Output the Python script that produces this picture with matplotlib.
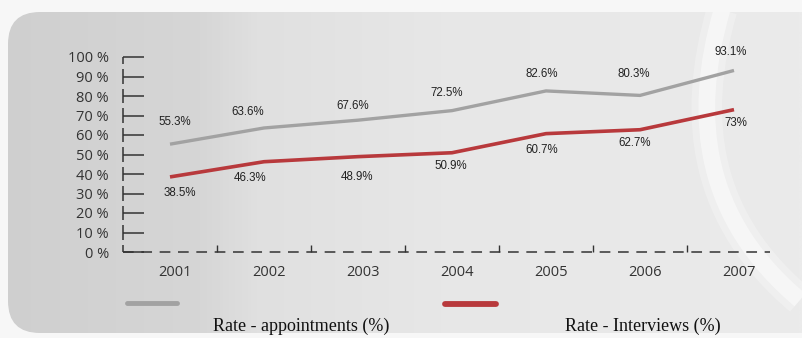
import matplotlib
matplotlib.use('Agg')
import matplotlib.pyplot as plt
import numpy as np
from matplotlib.patches import FancyBboxPatch, PathPatch
from matplotlib.path import Path
from matplotlib.colors import LinearSegmentedColormap

# ── Data ───────────────────────────────────────────────────────────
years        = ['2001', '2002', '2003', '2004', '2005', '2006', '2007']
appointments = [55.3, 63.6, 67.6, 72.5, 82.6, 80.3, 93.1]
interviews   = [38.5, 46.3, 48.9, 50.9, 60.7, 62.7, 73.0]
appt_labels  = ['55.3%', '63.6%', '67.6%', '72.5%', '82.6%', '80.3%', '93.1%']
intv_labels  = ['38.5%', '46.3%', '48.9%', '50.9%', '60.7%', '62.7%', '73%']
y_ticks      = [0, 10, 20, 30, 40, 50, 60, 70, 80, 90, 100]
y_ticklabels = ['0 %', '10 %', '20 %', '30 %', '40 %', '50 %',
                '60 %', '70 %', '80 %', '90 %', '100 %']

# label offsets in pixels (dx, dy), dy positive = up
appt_off = [(5, 22), (-16, 16), (-5, 14), (-5, 18), (-4, 17), (-6, 21), (-3, 18)]
intv_off = [(10, -16), (-14, -16), (-1, -20), (-1, -13), (-4, -16), (-5, -13), (2, -13)]

# ── Style ──────────────────────────────────────────────────────────
W, H, DPI = 802, 338, 100
COL_GRAY = '#a2a2a2'
COL_RED  = '#b8393c'
COL_AXIS = '#333333'
SANS     = 'Open Sans'

fig = plt.figure(figsize=(W / DPI, H / DPI), dpi=DPI, facecolor='#f7f7f7')

# ── Background panel ───────────────────────────────────────────────
bg = fig.add_axes([0, 0, 1, 1])
bg.set_xlim(0, W)
bg.set_ylim(H, 0)
bg.axis('off')

cmap = LinearSegmentedColormap.from_list(
    'panel', [(0.0, '#cfcfcf'), (0.25, '#d6d6d6'), (0.32, '#e0e0e0'),
              (0.55, '#e7e7e7'), (1.0, '#ebebeb')])
grad = np.linspace(0, 1, 400).reshape(1, -1)
im = bg.imshow(grad, cmap=cmap, aspect='auto', extent=[0, W, H, 0], zorder=0)
panel = FancyBboxPatch((8, 12), W + 40, 321,
                       boxstyle='round,pad=0,rounding_size=32',
                       facecolor='none', edgecolor='none')
bg.add_patch(panel)
im.set_clip_path(panel)

# soft white swoosh on the right
sw_path = Path([(722, 10), (690, 120), (705, 220), (800, 300)],
               [Path.MOVETO, Path.CURVE4, Path.CURVE4, Path.CURVE4])
for lw, a in [(22, 0.25), (12, 0.45)]:
    sw = PathPatch(sw_path, facecolor='none', edgecolor='white', lw=lw,
                   alpha=a, zorder=1, capstyle='butt')
    bg.add_patch(sw)
    sw.set_clip_path(panel)

# ── Main axes ──────────────────────────────────────────────────────
ax = fig.add_axes([123 / W, (H - 252) / H, 658 / W, 195 / H])
ax.patch.set_alpha(0)
x = np.arange(len(years))
ax.set_xlim(-0.5, 6.5)
ax.set_ylim(0, 100)
for s in ax.spines.values():
    s.set_visible(False)

ax.plot(x, appointments, color=COL_GRAY, lw=2.4, solid_capstyle='butt',
        zorder=3, clip_on=False)
ax.plot(x, interviews, color=COL_RED, lw=2.6, solid_capstyle='butt',
        zorder=3, clip_on=False)

for xi, v, t, (dx, dy) in zip(x, appointments, appt_labels, appt_off):
    ax.annotate(t, (xi, v), xytext=(dx, dy), textcoords='offset pixels',
                ha='center', va='center', fontsize=8.3,
                family='Liberation Sans', color='#222222')
for xi, v, t, (dx, dy) in zip(x, interviews, intv_labels, intv_off):
    ax.annotate(t, (xi, v), xytext=(dx, dy), textcoords='offset pixels',
                ha='center', va='center', fontsize=8.3,
                family='Liberation Sans', color='#222222')

# segmented y axis: short vertical piece centred on each tick
ax.set_yticks(y_ticks)
ax.set_yticklabels(y_ticklabels, fontsize=10.5, family=SANS, color='#333333')
ax.tick_params(axis='y', direction='in', length=15, width=1.1,
               color=COL_AXIS, pad=10)
for t in y_ticks:
    lo, hi = max(t - 3.6, 0), min(t + 3.6, 100)
    ax.plot([-0.5, -0.5], [lo, hi], color=COL_AXIS, lw=1.1,
            clip_on=False, zorder=4, solid_capstyle='butt')

# dashed x axis with short boundary ticks
ax.plot([-0.5, 6.38], [0, 0], color=COL_AXIS, lw=1.1, ls=(0, (7, 5)),
        clip_on=False, zorder=4)
ax.set_xticks((x + 0.5)[:-1])
ax.set_xticklabels([])
ax.tick_params(axis='x', direction='in', length=5, width=1.0,
               color=COL_AXIS)
for xi, yr in zip(x, years):
    ax.text(xi + 0.05, -10.5, yr, ha='center', va='center', fontsize=10.5,
            family=SANS, color='#333333')

# ── Legend ─────────────────────────────────────────────────────────
bg.plot([127, 177], [303, 303], color=COL_GRAY, lw=3.5,
        solid_capstyle='round', zorder=5)
bg.plot([445, 496], [304, 304], color=COL_RED, lw=4.2,
        solid_capstyle='round', zorder=5)
bg.text(213, 326, 'Rate - appointments (%)', ha='left', va='center',
        fontsize=13, family='Liberation Serif', color='#111111')
bg.text(565, 326, 'Rate - Interviews (%)', ha='left', va='center',
        fontsize=13, family='Liberation Serif', color='#111111')

fig.savefig('out.png', dpi=DPI, facecolor=fig.get_facecolor())
plt.close(fig)
